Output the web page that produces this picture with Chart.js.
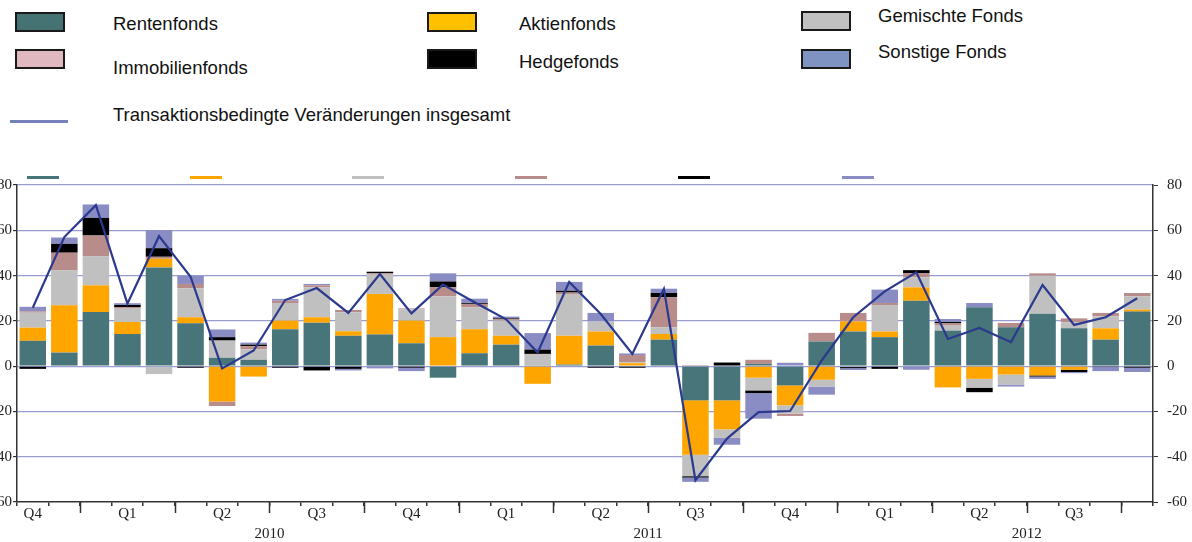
<!DOCTYPE html>
<html>
<head>
<meta charset="utf-8">
<script src="https://cdn.jsdelivr.net/npm/chart.js@4"></script>
<style>
body{margin:0;width:1192px;height:542px;overflow:hidden;background:#fff;position:relative;font-family:"Liberation Sans",Arial,sans-serif;}
.box{position:absolute;box-sizing:border-box;width:50px;height:20px;border:2px solid #1a1a1a;}
.lbl{position:absolute;font-size:18.5px;color:#111;line-height:22px;white-space:nowrap;}
.seg{position:absolute;top:176px;height:3px;width:32px;}
#wrap{position:absolute;left:-30px;top:167px;width:1222px;height:375px;}
</style>
</head>
<body>
<!-- legend -->
<div class="box" style="left:15px;top:12px;background:#457374"></div>
<div class="lbl" style="left:113px;top:13px">Rentenfonds</div>
<div class="box" style="left:15px;top:49px;background:#e0b8bf"></div>
<div class="lbl" style="left:113px;top:57px">Immobilienfonds</div>
<div class="box" style="left:427px;top:12px;background:#ffc000"></div>
<div class="lbl" style="left:519px;top:13px">Aktienfonds</div>
<div class="box" style="left:427px;top:49px;background:#000"></div>
<div class="lbl" style="left:519px;top:51px">Hedgefonds</div>
<div class="box" style="left:801px;top:11px;background:#c0c0c0"></div>
<div class="lbl" style="left:878px;top:5px">Gemischte Fonds</div>
<div class="box" style="left:801px;top:49px;background:#7f93c2"></div>
<div class="lbl" style="left:878px;top:41px">Sonstige Fonds</div>
<div style="position:absolute;left:10px;top:120px;width:58px;height:3px;background:#7481bb"></div>
<div class="lbl" style="left:113px;top:104px">Transaktionsbedingte Veränderungen insgesamt</div>

<!-- clipped remains of the original legend -->
<div class="seg" style="left:27px;background:#487579"></div>
<div class="seg" style="left:190px;background:#ffa500"></div>
<div class="seg" style="left:352px;background:#c0c0c0"></div>
<div class="seg" style="left:515px;background:#b98c8c"></div>
<div class="seg" style="left:678px;background:#000"></div>
<div class="seg" style="left:842px;background:#8a8cc4"></div>

<div id="wrap"><canvas id="chart"></canvas></div>

<script>
const months = ['2009-11','2009-12',
  '2010-01','2010-02','2010-03','2010-04','2010-05','2010-06','2010-07','2010-08','2010-09','2010-10','2010-11','2010-12',
  '2011-01','2011-02','2011-03','2011-04','2011-05','2011-06','2011-07','2011-08','2011-09','2011-10','2011-11','2011-12',
  '2012-01','2012-02','2012-03','2012-04','2012-05','2012-06','2012-07','2012-08','2012-09','2012-10'];
const quarterLabels = ['Q4','','','Q1','','','Q2','','','Q3','','','Q4','','','Q1','','','Q2','','','Q3','','','Q4','','','Q1','','','Q2','','','Q3','',''];
const years = ['2010','2011','2012'];
const yTicks = [-60,-40,-20,0,20,40,60,80];

const renten     = [11.2,6.0,23.9,14.2,43.6,18.9,3.7,2.8,16.3,19.2,13.4,14.0,10.1,-5.1,5.7,9.5,0.4,0.7,9.1,0,11.7,-15.1,-15.1,1.0,-8.5,10.9,15.3,12.8,28.9,15.7,26.0,17.2,23.1,16.7,11.7,24.1];
const aktien     = [5.8,20.9,11.8,5.3,3.8,2.7,-15.6,-4.6,3.8,2.4,2.0,17.9,10.0,12.8,10.6,3.9,-7.8,12.7,6.2,1.3,2.5,-24.0,-12.8,-5.1,-8.8,-6.0,4.4,2.5,5.9,-9.4,-5.6,-3.7,-4.1,-1.6,5.0,0.9];
const gemischt   = [6.6,15.5,12.9,5.9,-3.5,12.8,7.6,4.7,7.8,13.2,8.4,8.5,5.0,18.0,9.7,6.7,4.7,18.2,4.4,0.4,3.0,-9.5,-3.8,-5.6,-3.7,-3.0,-0.4,11.7,4.4,2.2,-3.9,-4.4,16.8,2.7,5.3,5.8];
const immobilien = [0.6,7.7,9.1,0.7,0.9,1.9,-2.0,1.3,1.0,0.9,1.0,0.6,0.4,4.0,1.5,0.6,0.3,0.9,0,3.2,13.2,0.5,0,1.8,-1.0,3.8,3.8,0.9,1.9,1.0,0,1.9,1.1,1.7,1.5,1.5];
const hedge      = [-1.2,3.9,7.8,0.9,3.8,-0.7,1.5,0.7,-0.7,-1.9,-1.2,0.7,-0.7,2.6,0.4,0.4,1.9,0.8,-0.7,-0.7,1.9,-0.6,1.6,-1.2,0,0,-0.5,-1.2,1.3,0.6,-2.0,0,-0.5,-1.0,-0.4,-0.7];
const sonstige   = [2.0,2.8,5.9,0.8,8.0,3.6,3.4,0.9,0.8,0.6,-0.7,-1.0,-1.5,3.6,1.9,0.8,7.3,3.9,3.8,0.7,1.9,-1.9,-3.0,-11.3,1.5,-3.6,-0.8,5.9,-1.6,1.3,1.9,-0.9,-1.0,-0.5,-1.8,-1.9];
const insgesamt  = [25.8,57.0,71.1,27.6,57.4,39.5,-1.0,6.9,29.2,34.5,23.5,40.7,23.3,36.0,28.2,20.7,6.0,37.2,23.0,5.4,34.1,-50.4,-32.0,-20.3,-19.8,2.5,21.6,33.0,41.4,12.0,16.9,10.6,35.8,18.2,21.6,30.0];

// year label sits in the middle of the 12 months of that year
const yearPos = years.map(y => months.findIndex(m => m.startsWith(y)) + 6);

const serif = { family: '"Liberation Serif", "Times New Roman", serif', size: 15 };

// long tick marks at the start of each quarter
const quarterTicks = {
  id: 'quarterTicks',
  afterDraw(chart) {
    const x = chart.scales.x, ctx = chart.ctx;
    ctx.save();
    ctx.strokeStyle = '#333';
    ctx.lineWidth = 1.5;
    months.forEach((m, i) => {
      if (i > 0 && ['01','04','07','10'].includes(m.slice(5))) {
        const px = Math.round((x.getPixelForValue(i - 1) + x.getPixelForValue(i)) / 2) + 0.5;
        ctx.beginPath();
        ctx.moveTo(px, x.top);
        ctx.lineTo(px, x.top + 11);
        ctx.stroke();
      }
    });
    ctx.restore();
  }
};

const bar = (label, data, color) => ({
  type: 'bar', label, data, backgroundColor: color, stack: 'fonds',
  barPercentage: 0.84, categoryPercentage: 1.0, order: 1
});

new Chart(document.getElementById('chart'), {
  data: {
    labels: months,
    datasets: [
      bar('Rentenfonds', renten, '#487579'),
      bar('Aktienfonds', aktien, '#ffa500'),
      bar('Gemischte Fonds', gemischt, '#c0c0c0'),
      bar('Immobilienfonds', immobilien, '#b98c8c'),
      bar('Hedgefonds', hedge, '#000000'),
      bar('Sonstige Fonds', sonstige, '#8a8cc4'),
      {
        type: 'line', label: 'Transaktionsbedingte Veränderungen insgesamt', data: insgesamt,
        stack: 'total', borderColor: '#2b3a8e', borderWidth: 2.2, pointRadius: 0, tension: 0, order: 0
      }
    ]
  },
  options: {
    responsive: true,
    maintainAspectRatio: false,
    animation: false,
    layout: { padding: 0 },
    plugins: { legend: { display: false }, tooltip: { enabled: false } },
    scales: {
      x: {
        type: 'category', stacked: true, position: 'bottom',
        grid: { offset: true, drawOnChartArea: false, tickLength: 4, color: '#333', lineWidth: 1.5 },
        border: { color: '#333', width: 1.5 },
        ticks: { autoSkip: false, maxRotation: 0, padding: -1, color: '#222', font: serif,
                 callback: (v, i) => quarterLabels[i] },
        afterFit: s => { s.height = 22; }
      },
      x2: {
        type: 'linear', position: 'bottom', min: 0, max: months.length, offset: false,
        grid: { display: false }, border: { display: false },
        afterBuildTicks: s => { s.ticks = yearPos.map(v => ({ value: v })); },
        ticks: { autoSkip: false, maxRotation: 0, padding: -7, color: '#222', font: serif,
                 callback: (v, i) => years[i] },
        afterFit: s => { s.height = 18; }
      },
      y: {
        stacked: true, position: 'left', min: -60, max: 80,
        grid: { color: c => c.tick && c.tick.value === -60 ? 'rgba(0,0,0,0)' : '#9a9dd0', lineWidth: 1.2, tickColor: '#333', tickLength: 4 },
        border: { color: '#333', width: 1.5 },
        afterBuildTicks: s => { s.ticks = yTicks.map(v => ({ value: v })); },
        ticks: { padding: 1, color: '#222', font: serif },
        afterFit: s => { s.width = 47; }
      },
      y2: {
        position: 'right', min: -60, max: 80,
        grid: { drawOnChartArea: false, tickColor: '#333', tickLength: 5 },
        border: { color: '#333', width: 1.5 },
        afterBuildTicks: s => { s.ticks = yTicks.map(v => ({ value: v })); },
        ticks: { padding: 9, color: '#222', font: serif },
        afterFit: s => { s.width = 39; }
      }
    }
  },
  plugins: [quarterTicks]
});
</script>
</body>
</html>
